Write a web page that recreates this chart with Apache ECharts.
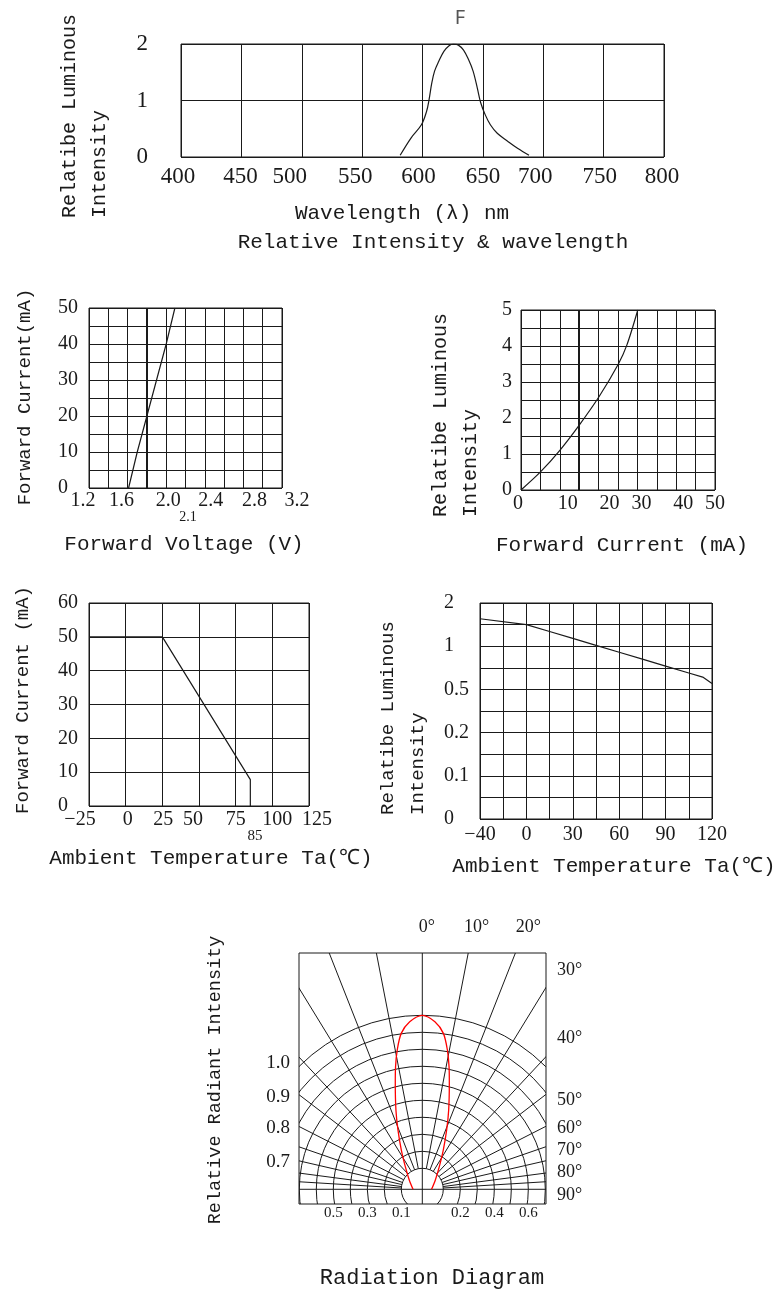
<!DOCTYPE html>
<html><head><meta charset="utf-8">
<script src="https://cdn.jsdelivr.net/npm/echarts@6/dist/echarts.min.js"></script>
<style>html,body{margin:0;padding:0;background:#fff}#c{width:779px;height:1292px}</style>
</head><body><div id="c"></div>
<script>
// ---------------- DATA ----------------
// Chart 1: relative intensity vs wavelength
const wlTicks = [400, 450, 500, 550, 600, 650, 700, 750, 800];
const spectrumYTicks = [0, 1, 2];
const spectrumWl = [581.5, 590.6, 599.1, 603.4, 605.4, 607.7, 610.0, 613.4, 617.7, 622.0, 625.4, 629.7, 634.0, 638.2, 641.9, 645.4, 648.2, 651.9, 656.2, 661.9, 670.5, 679.0, 688.2];
const spectrumI  = [0.03, 0.34, 0.57, 0.81, 1.01, 1.31, 1.52, 1.69, 1.87, 1.97, 2.0, 1.98, 1.89, 1.72, 1.52, 1.22, 0.96, 0.75, 0.57, 0.42, 0.28, 0.15, 0.03];

// Chart 2: forward current vs forward voltage
const vfTickVals = [1.2, 1.6, 2.0, 2.4, 2.8, 3.2];
const vfTickText = ['1.2', '1.6', '2.0', '2.4', '2.8', '3.2'];
const ifTicks2 = [0, 10, 20, 30, 40, 50];
const vfVolt = [1.61, 1.70, 1.80, 1.90, 2.00, 2.09];
const vfCurr = [0, 10, 20, 30, 40, 50];
const vfNote = '2.1';

// Chart 3: relative luminous intensity vs forward current
const ifTicks3 = [0, 10, 20, 30, 40, 50];
const lumTicks3 = [0, 1, 2, 3, 4, 5];
const liCurr = [0, 5.08, 10.07, 15.06, 20.1, 25.1, 27.3, 30.1];
const liLum  = [0, 0.51, 1.11, 1.81, 2.59, 3.5, 4.03, 5.0];

// Chart 4: forward current derating vs ambient temperature
const taTicks4 = [-25, 0, 25, 50, 75, 100, 125];
const ifTicks4 = [0, 10, 20, 30, 40, 50, 60];
const derTemp = [-25, 25, 85, 85];
const derCurr = [50, 50, 7.8, 0];
const derNote = '85';

// Chart 5: relative luminous intensity vs ambient temperature
const taTicks5 = [-40, 0, 30, 60, 90, 120];
const lumTicks5 = [0, 0.1, 0.2, 0.5, 1, 2];
const ltTemp = [-40, 0, 15, 30, 45, 60, 75, 90, 105, 114, 120];
const ltLum  = [1.635, 1.5, 1.34, 1.18, 1.02, 0.93, 0.85, 0.77, 0.69, 0.6425, 0.5675];

// Chart 6: radiation diagram
const ringLevels = [0.1, 0.2, 0.3, 0.4, 0.5, 0.6, 0.7, 0.8, 0.9, 1.0];
const spokeAngles = [11, 21.5, 31.5, 43, 52.5, 63, 71, 77, 82.5, 86.5];
const patAngle = [0, 4.3, 7.7, 10.2, 12.3, 14.3, 18.4, 22.3, 28.1, 36.9, 54.3, 90];
const patInt   = [1.0, 0.965, 0.902, 0.809, 0.715, 0.62, 0.468, 0.354, 0.239, 0.143, 0.071, 0.031];
const radBottomLeft = [0.5, 0.3, 0.1];
const radBottomRight = [0.2, 0.4, 0.6];
const radLeftText = ['1.0', '0.9', '0.8', '0.7'];
const radTopText = ['0°', '10°', '20°'];
const radRightText = ['30°', '40°', '50°', '60°', '70°', '80°', '90°'];

// ---------------- LAYOUT / STYLE ----------------
const MONO = "'Liberation Mono','DejaVu Sans Mono',monospace";
const SERIF = "'Liberation Serif','DejaVu Serif',serif";
const INK = '#1a1a1a';
const R0 = 0.0235;               // inner offset of the polar rings
// positions of the irregular tick labels (axis units) in radiation chart
const radLeftPos = [0.741, 0.545, 0.359, 0.162];
const radTopPos = [0.026, 0.32, 0.624];
const radRightPos = [1.290, 0.890, 0.525, 0.360, 0.231, 0.102, -0.034];
// per-label horizontal nudges (px)
const off1 = [-3, -1, -12, -7, -4, 0, -8, -4, -2];
const off2 = [-6, -6, 2, 6, 11, 15];
const off3 = [-3, 8, 11, 4, 7, 0];
const off4 = [-9, 2, 1, -6, 0, 5, 8];
const tempPos5 = [0, 2, 4, 6, 8, 10];
const lumPos5 = [0, 2, 4, 6, 8, 10];

function near(a, b) { return Math.abs(a - b) < 1e-6; }
function richFor(offsets, size) {
  const r = {};
  offsets.forEach((d, i) => {
    r['o' + i] = { fontFamily: SERIF, fontSize: size, color: INK,
      padding: d >= 0 ? [0, 0, 0, 2 * d] : [0, -2 * d, 0, 0] };
  });
  return r;
}
function fmtRich(vals, texts) {
  return v => { const i = vals.findIndex(t => near(t, v)); return i < 0 ? '' : '{o' + i + '|' + texts[i] + '}'; };
}
function fmtList(vals) {
  return v => { const i = vals.findIndex(t => near(t, v)); return i < 0 ? '' : String(vals[i]); };
}
function piecewise(v, vals, pos) {
  for (let i = 0; i < vals.length - 1; i++) {
    if (v <= vals[i + 1] || i === vals.length - 2) {
      return pos[i] + (v - vals[i]) / (vals[i + 1] - vals[i]) * (pos[i + 1] - pos[i]);
    }
  }
}
const split = { show: true, lineStyle: { color: INK, width: 1 } };
function vAxis(gi, min, max, interval, label, extra) {
  return Object.assign({ type: 'value', gridIndex: gi, min, max, interval,
    axisLine: { show: false }, axisTick: { show: false }, splitLine: split,
    axisLabel: Object.assign({ color: INK, fontFamily: SERIF }, label) }, extra || {});
}

const grids = [
  { left: 181, top: 44, width: 483, height: 113 },
  { left: 89, top: 308, width: 193, height: 180 },
  { left: 521, top: 310, width: 194, height: 180 },
  { left: 89, top: 603, width: 220, height: 203 },
  { left: 480, top: 603, width: 232, height: 216 },
  { left: 299, top: 953, width: 247, height: 251 }
].map(g => Object.assign({ show: true, borderColor: INK, borderWidth: 1, backgroundColor: 'transparent', containLabel: false, outerBoundsMode: 'none' }, g));

const xAxes = [
  vAxis(0, 400, 800, 50, { fontSize: 23, margin: 8, formatter: fmtRich(wlTicks, wlTicks.map(String)), rich: richFor(off1, 23) }),
  vAxis(1, 1.2, 3.2, 0.2, { fontSize: 20, margin: 3, formatter: fmtRich(vfTickVals, vfTickText), rich: richFor(off2, 20) }),
  vAxis(2, 0, 50, 5, { fontSize: 20, margin: 4, formatter: fmtRich(ifTicks3, ifTicks3.map(String)), rich: richFor(off3, 20) }),
  vAxis(3, -25, 125, 25, { fontSize: 20, margin: 4, formatter: fmtRich(taTicks4, taTicks4.map(v => v < 0 ? '−' + (-v) : String(v))), rich: richFor(off4, 20) }),
  vAxis(4, 0, 10, 1, { fontSize: 20, margin: 6, formatter: v => { const i = tempPos5.indexOf(v); return i < 0 ? '' : (taTicks5[i] < 0 ? '−' + (-taTicks5[i]) : String(taTicks5[i])); } }),
  { type: 'value', gridIndex: 5, min: -0.7253, max: 0.7276, position: 'bottom',
    axisLine: { show: false }, axisTick: { show: false }, splitLine: { show: false },
    axisLabel: { color: INK, fontFamily: SERIF, fontSize: 15, margin: 2,
      customValues: radBottomLeft.map(v => -(v + R0)).concat(radBottomRight.map(v => v + R0)),
      formatter: v => (Math.abs(v) - R0).toFixed(1) } },
  { type: 'value', gridIndex: 5, min: -0.7253, max: 0.7276, position: 'top',
    axisLine: { show: false }, axisTick: { show: false }, splitLine: { show: false },
    axisLabel: { color: INK, fontFamily: SERIF, fontSize: 18, margin: 17,
      customValues: radTopPos,
      formatter: v => { const i = radTopPos.findIndex(t => near(t, v)); return i < 0 ? '' : radTopText[i]; } } }
];
const yAxes = [
  vAxis(0, 0, 2, 1, { fontSize: 23, margin: 33, padding: [0, 0, 4, 0], formatter: fmtList(spectrumYTicks) }),
  vAxis(1, 0, 50, 5, { fontSize: 20, margin: 31, align: 'left', padding: [0, 0, 8, 0], formatter: fmtList(ifTicks2) }),
  vAxis(2, 0, 5, 0.5, { fontSize: 20, margin: 9, padding: [0, 0, 9, 0], formatter: fmtList(lumTicks3) }),
  vAxis(3, 0, 60, 10, { fontSize: 20, margin: 31, align: 'left', padding: [0, 0, 8, 0], formatter: fmtList(ifTicks4) }),
  vAxis(4, 0, 10, 1, { fontSize: 20, margin: 36, align: 'left', formatter: v => { const i = lumPos5.indexOf(v); return i < 0 ? '' : String(lumTicks5[i]); } }),
  { type: 'value', gridIndex: 5, min: -0.0865, max: 1.39, position: 'left',
    axisLine: { show: false }, axisTick: { show: false }, splitLine: { show: false },
    axisLabel: { color: INK, fontFamily: SERIF, fontSize: 19, margin: 9,
      customValues: radLeftPos,
      formatter: v => { const i = radLeftPos.findIndex(t => near(t, v)); return i < 0 ? '' : radLeftText[i]; } } },
  { type: 'value', gridIndex: 5, min: -0.0865, max: 1.39, position: 'right',
    axisLine: { show: false }, axisTick: { show: false }, splitLine: { show: false },
    axisLabel: { color: INK, fontFamily: SERIF, fontSize: 18, margin: 11, align: 'left',
      customValues: radRightPos,
      formatter: v => { const i = radRightPos.findIndex(t => near(t, v)); return i < 0 ? '' : radRightText[i]; } } }
];

function lineSeries(xi, xs, ys, extra) {
  return Object.assign({ type: 'line', xAxisIndex: xi, yAxisIndex: xi, data: xs.map((x, i) => [x, ys[i]]),
    symbol: 'none', showSymbol: false, silent: true, lineStyle: { color: INK, width: 1.2 } }, extra || {});
}
const boldLine = v => ({ silent: true, symbol: ['none', 'none'], label: { show: false },
  lineStyle: { color: INK, width: 2, type: 'solid' }, data: [{ xAxis: v }] });

// radiation pattern -> cartesian points
const patRight = patAngle.map((a, i) => { const r = R0 + patInt[i], t = a * Math.PI / 180; return [r * Math.sin(t), r * Math.cos(t)]; });
const patFull = patRight.slice().reverse().map(p => [-p[0], p[1]]).concat(patRight.slice(1));

const series = [
  lineSeries(0, spectrumWl, spectrumI, { smooth: 0.35 }),
  lineSeries(1, vfVolt, vfCurr, { markLine: boldLine(1.8) }),
  lineSeries(2, liCurr, liLum, { smooth: 0.3, markLine: boldLine(15) }),
  lineSeries(3, derTemp, derCurr),
  lineSeries(4, ltTemp.map(t => piecewise(t, taTicks5, tempPos5)), ltLum.map(l => piecewise(l, lumTicks5, lumPos5))),
  { type: 'custom', xAxisIndex: 5, yAxisIndex: 5, clip: true, silent: true,
    data: ringLevels.map(v => [v, 0]),
    renderItem: (p, api) => { const c = api.coord([0, 0]); const e = api.coord([R0 + api.value(0), 0]);
      return { type: 'circle', shape: { cx: c[0], cy: c[1], r: e[0] - c[0] }, style: { fill: 'none', stroke: INK, lineWidth: 1 } }; } },
  { type: 'custom', xAxisIndex: 5, yAxisIndex: 5, clip: true, silent: true,
    data: spokeAngles.map(a => [a, 0]).concat(spokeAngles.map(a => [-a, 0])),
    renderItem: (p, api) => { const t = api.value(0) * Math.PI / 180; const r1 = R0 + ringLevels[0], r2 = 3;
      const a = api.coord([r1 * Math.sin(t), r1 * Math.cos(t)]); const b = api.coord([r2 * Math.sin(t), r2 * Math.cos(t)]);
      return { type: 'line', shape: { x1: a[0], y1: a[1], x2: b[0], y2: b[1] }, style: { stroke: INK, lineWidth: 1 } }; } },
  { type: 'custom', xAxisIndex: 5, yAxisIndex: 5, clip: true, silent: true,
    data: [[0, 0], [90, 0]],
    renderItem: (p, api) => { const t = api.value(0) * Math.PI / 180; const r2 = 3;
      const a = api.coord([-r2 * Math.sin(t), -r2 * Math.cos(t)]); const b = api.coord([r2 * Math.sin(t), r2 * Math.cos(t)]);
      return { type: 'line', shape: { x1: a[0], y1: a[1], x2: b[0], y2: b[1] }, style: { stroke: INK, lineWidth: 1 } }; } },
  { type: 'line', xAxisIndex: 5, yAxisIndex: 5, data: patFull, smooth: 0.3, symbol: 'none', showSymbol: false, silent: true,
    lineStyle: { color: '#ff0000', width: 1.3 }, z: 5 }
];

function txt(text, x, y, size, opts) {
  opts = opts || {};
  return { type: 'text', x, y, rotation: opts.rot ? Math.PI / 2 : 0, silent: true,
    style: { text, fontSize: size, fontFamily: opts.family || MONO, fill: opts.fill || INK,
      textAlign: opts.align || 'center', align: opts.align || 'center',
      textVerticalAlign: 'middle', verticalAlign: 'middle' } };
}
const graphic = [
  txt('F', 460, 18, 20, { family: "'Noto Sans','DejaVu Sans',sans-serif", fill: '#555' }),
  txt('Relatibe Luminous', 70, 218, 20, { rot: true, align: 'left' }),
  txt('Intensity', 100, 218, 20, { rot: true, align: 'left' }),
  txt('Wavelength (λ) nm', 402, 213, 21),
  txt('Relative Intensity & wavelength', 433, 242, 21),
  txt('Forward Current(mA)', 25, 397, 19, { rot: true }),
  txt(vfNote, 188, 517, 14, { family: SERIF }),
  txt('Forward Voltage (V)', 184, 544, 21),
  txt('Relatibe Luminous', 441, 517, 20, { rot: true, align: 'left' }),
  txt('Intensity', 471, 517, 20, { rot: true, align: 'left' }),
  txt('Forward Current (mA)', 622, 545, 21),
  txt('Forward Current (mA)', 23, 700, 19, { rot: true }),
  txt(derNote, 255, 836, 15, { family: SERIF }),
  txt('Ambient Temperature Ta(℃)', 211, 858, 21),
  txt('Relatibe Luminous', 388, 815, 19, { rot: true, align: 'left' }),
  txt('Intensity', 418, 815, 19, { rot: true, align: 'left' }),
  txt('Ambient Temperature Ta(℃)', 614, 866, 21),
  txt('Relative Radiant Intensity', 215, 1080, 18.5, { rot: true }),
  txt('Radiation Diagram', 432, 1278, 22)
];

const chart = echarts.init(document.getElementById('c'), null, { renderer: 'canvas' });
chart.setOption({ animation: false, backgroundColor: '#fff', grid: grids, xAxis: xAxes, yAxis: yAxes, series, graphic });
</script></body></html>
